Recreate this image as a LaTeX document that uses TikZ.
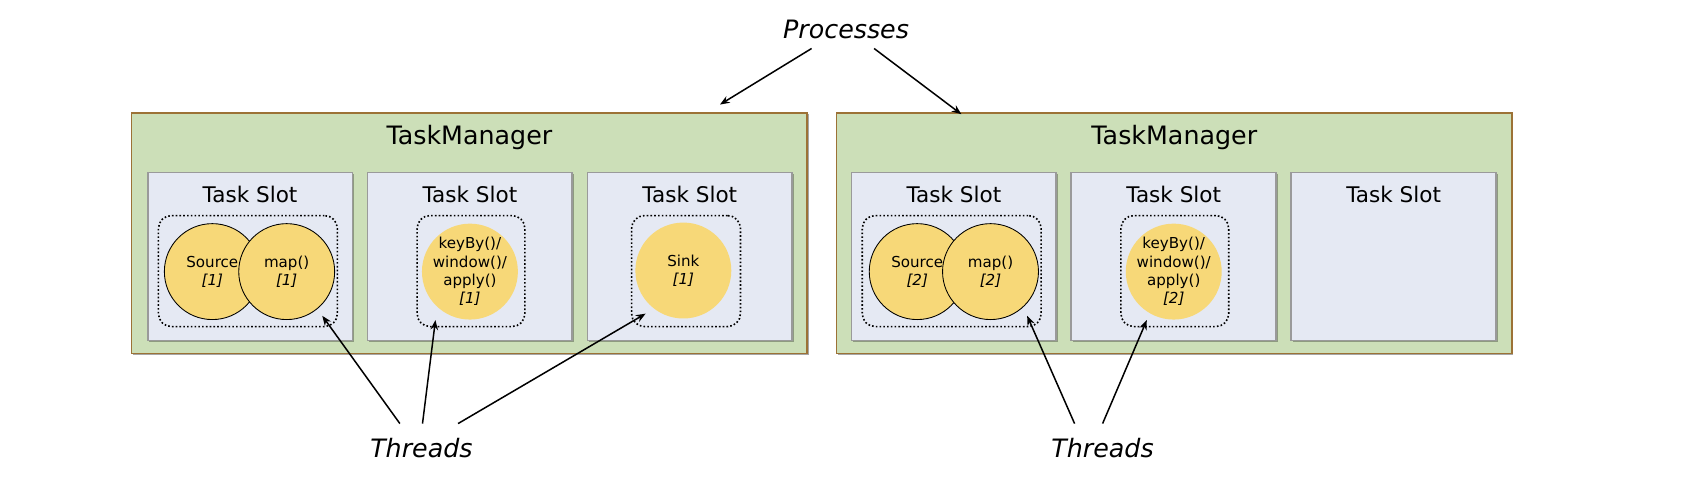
\documentclass[tikz,border=0pt]{standalone}
\usepackage{fontspec}
\setmainfont{DejaVu Sans}
\usetikzlibrary{arrows.meta,shadows}
\definecolor{tmfill}{HTML}{CCDFB8}
\definecolor{tmdraw}{HTML}{9C7236}
\definecolor{slotfill}{HTML}{E5E9F3}
\definecolor{slotdraw}{HTML}{9A9A9A}
\definecolor{opfill}{HTML}{F7D878}
\tikzset{
  tmbox/.style={draw=tmdraw, fill=tmfill, line width=1.6pt, minimum width=627pt, minimum height=223pt, inner sep=0pt,
    drop shadow={shadow xshift=1.2pt, shadow yshift=-1.2pt, opacity=0.35, fill=black}},
  slotbox/.style={draw=slotdraw, fill=slotfill, line width=1.6pt, minimum width=190pt, minimum height=156pt, inner sep=0pt,
    drop shadow={shadow xshift=1.5pt, shadow yshift=-1.5pt, opacity=0.3, fill=black}},
  grpbox/.style={draw=black, dotted, line width=1.5pt, rounded corners=12pt, inner sep=0pt},
  opcirc/.style={circle, fill=opfill, minimum size=89pt, inner sep=0pt},
  opcircd/.style={opcirc, draw=black, line width=0.8pt},
  optext/.style={align=center, font=\fontsize{14}{17}\selectfont, inner sep=0pt},
  bigtext/.style={font=\fontsize{23.5}{28}\selectfont, inner sep=0pt},
  slottext/.style={font=\fontsize{20}{24}\selectfont, inner sep=0pt},
  itext/.style={font=\fontsize{23.5}{28}\selectfont\itshape, inner sep=0pt},
  arr/.style={-{Stealth[length=9pt,width=7pt]}, line width=1.4pt},
}
\begin{document}
\begin{tikzpicture}[x=1pt,y=-1pt]
\useasboundingbox (0,0) rectangle (1568,449);
% Task managers
\node[tmbox] (tm1) at (435.5,216.5) {};
\node[tmbox] (tm2) at (1089.5,216.5) {};
\node[bigtext] (tm1t) at (435.5,128) {TaskManager};
\node[bigtext] (tm2t) at (1089.5,128) {TaskManager};
% slots
\foreach \n/\x in {s1/232,s2/436,s3/640,s4/885,s5/1089,s6/1293}{
  \node[slotbox] (\n) at (\x,238) {};
  \node[slottext] (\n t) at (\x,180) {Task Slot};
}
% groups
\node[grpbox, minimum width=166pt, minimum height=103pt] (g1) at (230,251.5) {};
\node[grpbox, minimum width=100pt, minimum height=103pt] (g2) at (437,251.5) {};
\node[grpbox, minimum width=101pt, minimum height=103pt] (g3) at (636.5,251.5) {};
\node[grpbox, minimum width=166pt, minimum height=103pt] (g4) at (883,251.5) {};
\node[grpbox, minimum width=100pt, minimum height=103pt] (g5) at (1090,251.5) {};
% operators
\node[opcircd] (src1) at (197,252) {};
\node[optext] (src1t) at (src1) {Source\\\textit{[1]}};
\node[opcircd] (map1) at (266,252) {};
\node[optext] (map1t) at (map1) {map()\\\textit{[1]}};
\node[opcirc] (key1) at (436,252) {};
\node[optext] (key1t) at (key1) {keyBy()/\\window()/\\apply()\\\textit{[1]}};
\node[opcirc] (sink1) at (634,251) {};
\node[optext] (sink1t) at (sink1) {Sink\\\textit{[1]}};
\node[opcircd] (src2) at (851,252) {};
\node[optext] (src2t) at (src2) {Source\\\textit{[2]}};
\node[opcircd] (map2) at (919,252) {};
\node[optext] (map2t) at (map2) {map()\\\textit{[2]}};
\node[opcirc] (key2) at (1089,252) {};
\node[optext] (key2t) at (key2) {keyBy()/\\window()/\\apply()\\\textit{[2]}};
% labels
\node[itext] (proc) at (785,27) {Processes};
\node[itext] (thr1) at (391,416) {Threads};
\node[itext] (thr2) at (1023,416) {Threads};
% arrow coordinates
\coordinate (p1s) at (753,45);
\coordinate (p2s) at (811,45);
\coordinate (p1e) at (668,97);
\coordinate (p2e) at (892,106);
\coordinate (t1a) at (371,393);
\coordinate (t1b) at (392,393);
\coordinate (t1c) at (425,393);
\coordinate (e1a) at (299,293);
\coordinate (e1b) at (404,297);
\coordinate (e1c) at (599,291);
\coordinate (t2a) at (997,393);
\coordinate (t2b) at (1023,393);
\coordinate (e2a) at (953,293);
\coordinate (e2b) at (1064,297);
\draw[arr] (p1s) -- (p1e);
\draw[arr] (p2s) -- (p2e);
\draw[arr] (t1a) -- (e1a);
\draw[arr] (t1b) -- (e1b);
\draw[arr] (t1c) -- (e1c);
\draw[arr] (t2a) -- (e2a);
\draw[arr] (t2b) -- (e2b);
\end{tikzpicture}
\end{document}
